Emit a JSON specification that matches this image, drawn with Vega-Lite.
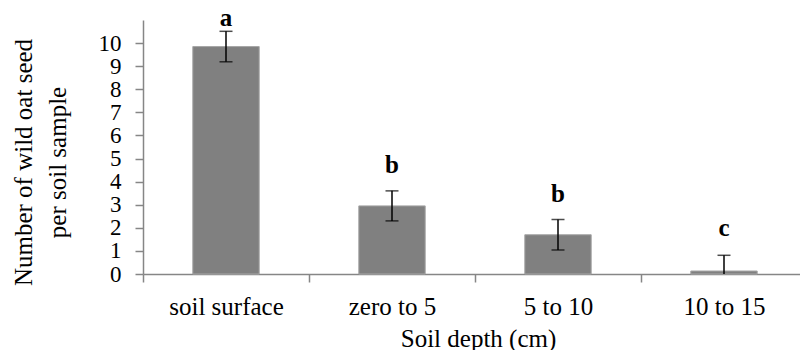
{
  "$schema": "https://vega.github.io/schema/vega-lite/v6.json",
  "autosize": "none",
  "padding": {"left": 143, "top": 20, "right": 0, "bottom": 76},
  "width": 664,
  "height": 254,
  "background": "white",
  "config": {
    "view": {"stroke": null},
    "font": "Liberation Serif",
    "axis": {
      "labelFont": "Liberation Serif",
      "titleFont": "Liberation Serif",
      "labelColor": "black",
      "titleColor": "black",
      "labelFontSize": 25,
      "titleFontSize": 25,
      "titleFontWeight": "normal",
      "domainColor": "#868686",
      "tickColor": "#868686",
      "domainWidth": 1.5,
      "tickWidth": 1.5,
      "grid": false,
      "labelOverlap": false
    }
  },
  "data": {
    "values": [
      {"depth": "soil surface", "mean": 9.85, "lo": 9.19, "hi": 10.51, "letter": "a", "letter_y": 10.75},
      {"depth": "zero to 5", "mean": 2.95, "lo": 2.3, "hi": 3.6, "letter": "b", "letter_y": 4.39},
      {"depth": "5 to 10", "mean": 1.7, "lo": 1.04, "hi": 2.36, "letter": "b", "letter_y": 3.13},
      {"depth": "10 to 15", "mean": 0.13, "lo": -0.55, "hi": 0.81, "letter": "c", "letter_y": 1.65}
    ]
  },
  "resolve": {"axis": {"y": "independent"}},
  "encoding": {
    "x": {
      "field": "depth",
      "type": "nominal",
      "sort": null,
      "scale": {"paddingInner": 0, "paddingOuter": 0},
      "axis": {
        "title": "Soil depth (cm)",
        "labelAngle": 0,
        "tickBand": "extent",
        "tickSize": 8,
        "labelBaseline": "alphabetic",
        "labelPadding": 32,
        "titleBaseline": "alphabetic",
        "titleY": 72,
        "titleX": 335,
        "titleAnchor": "middle"
      }
    }
  },
  "layer": [
    {
      "mark": {"type": "bar", "color": "#808080", "stroke": "#a6a6a6", "strokeWidth": 1, "width": {"band": 0.4}},
      "encoding": {
        "y": {
          "field": "mean",
          "type": "quantitative",
          "scale": {"domain": [0, 11], "nice": false},
          "axis": {
            "values": [0, 1, 2, 3, 4, 5, 6, 7, 8, 9, 10],
            "labelOverlap": false,
            "tickSize": 8,
            "labelPadding": 14,
            "labelBaseline": "middle",
            "labelFontSize": 23,
            "labelFont": "Liberation Serif",
            "title": ["Number of wild oat seed", "per soil sample"],
            "titleLineHeight": 34,
            "titleBaseline": "middle",
            "titleX": -120,
            "titleY": 142,
            "titleAngle": -90,
            "titleAnchor": "middle"
          }
        }
      }
    },
    {
      "mark": {"type": "rule", "color": "black", "strokeWidth": 1.5, "clip": true},
      "encoding": {
        "y": {"field": "lo", "type": "quantitative", "axis": null},
        "y2": {"field": "hi"}
      }
    },
    {
      "mark": {"type": "tick", "color": "black", "size": 13, "thickness": 1.5, "clip": true, "orient": "horizontal"},
      "encoding": {
        "y": {"field": "lo", "type": "quantitative", "axis": null}
      }
    },
    {
      "mark": {"type": "tick", "color": "black", "size": 13, "thickness": 1.5, "orient": "horizontal"},
      "encoding": {
        "y": {"field": "hi", "type": "quantitative", "axis": null}
      }
    },
    {
      "mark": {"type": "text", "font": "Liberation Serif", "fontSize": 25, "fontWeight": "bold", "baseline": "alphabetic", "color": "black"},
      "encoding": {
        "y": {"field": "letter_y", "type": "quantitative", "axis": null},
        "text": {"field": "letter"}
      }
    }
  ]
}
